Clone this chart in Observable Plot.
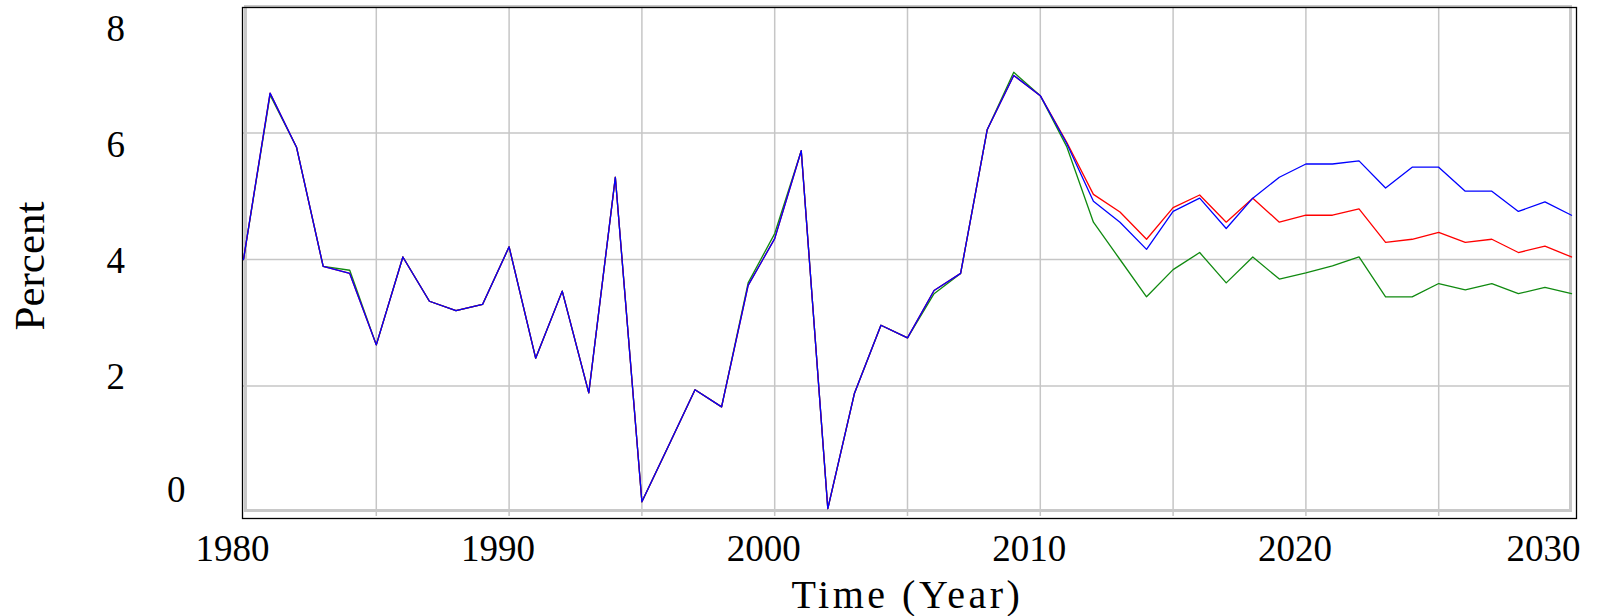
<!DOCTYPE html>
<html>
<head>
<meta charset="utf-8">
<script src="https://cdn.jsdelivr.net/npm/d3@7"></script>
<script src="https://cdn.jsdelivr.net/npm/@observablehq/plot@0.6"></script>
<style>
  html, body { margin: 0; padding: 0; background: #ffffff; color: #000000; }
  #chart svg { display: block; }
</style>
</head>
<body>
<div id="chart"></div>
<script>
// ---- data ----
const years = [1980,1981,1982,1983,1984,1985,1986,1987,1988,1989,
               1990,1991,1992,1993,1994,1995,1996,1997,1998,1999,
               2000,2001,2002,2003,2004,2005,2006,2007,2008,2009,
               2010,2011,2012,2013,2014,2015,2016,2017,2018,2019,
               2020,2021,2022,2023,2024,2025,2026,2027,2028,2029,2030];

const blueSeries = [4.00,6.63,5.77,3.89,3.78,2.65,4.04,3.34,3.19,3.29,
                    4.20,2.44,3.50,1.89,5.30,0.17,1.05,1.94,1.67,3.59,
                    4.33,5.72,0.06,1.88,2.96,2.76,3.51,3.78,6.05,6.91,
                    6.59,5.83,4.92,4.59,4.16,4.76,4.97,4.49,4.97,5.30,
                    5.51,5.51,5.56,5.13,5.46,5.46,5.08,5.08,4.76,4.91,4.70];

const redSeries  = [4.00,6.63,5.77,3.89,3.78,2.65,4.04,3.34,3.19,3.29,
                    4.20,2.44,3.50,1.89,5.30,0.17,1.05,1.94,1.67,3.59,
                    4.33,5.72,0.06,1.88,2.96,2.76,3.51,3.78,6.05,6.91,
                    6.59,5.85,5.03,4.75,4.32,4.82,5.02,4.59,4.97,4.59,
                    4.70,4.70,4.80,4.27,4.32,4.43,4.27,4.32,4.11,4.21,4.04];

const greenSeries = [4.00,6.60,5.77,3.89,3.83,2.65,4.04,3.34,3.19,3.29,
                     4.20,2.44,3.50,1.89,5.30,0.17,1.05,1.94,1.67,3.63,
                     4.41,5.72,0.06,1.88,2.96,2.76,3.46,3.78,6.05,6.96,
                     6.59,5.78,4.59,4.00,3.41,3.84,4.11,3.63,4.04,3.69,
                     3.79,3.90,4.04,3.41,3.41,3.62,3.52,3.62,3.46,3.56,3.46];

const xTickLabels = [1980, 1990, 2000, 2010, 2020, 2030];
const yTickLabels = [0, 2, 4, 6, 8];
const xGrid = [1985, 1990, 1995, 2000, 2005, 2010, 2015, 2020, 2025];
const yGrid = [2, 4, 6];
const xTitle = "Time (Year)";
const yTitle = "Percent";

// ---- build ----
const serif = "'Liberation Serif', 'Times New Roman', Times, serif";
const toRows = (vals) => years.map((yr, i) => ({year: yr, value: vals[i]}));
const intFmt = d => String(d);

// Vensim-style label placement (layout offsets only)
const yLabelDy = {8: 23, 6: 12, 4: 1.5, 2: -9, 0: -22};
const yLabelPad = (t) => (t === 0 ? 58 : 118.5);

const yAxes = yTickLabels.map(t => Plot.axisY([t], {
  tickSize: 0,
  tickPadding: yLabelPad(t),
  tickFormat: intFmt,
  dy: yLabelDy[t],
  fontSize: 37,
  fontFamily: serif,
  fill: "#000",
  label: null
}));

const chart = Plot.plot({
  width: 1610,
  height: 616,
  marginLeft: 243,
  marginRight: 39,
  marginTop: 6,
  marginBottom: 104,
  style: {background: "#ffffff", color: "#000000", fontFamily: serif, fontSize: "37px"},
  x: {domain: [1980, 2030], axis: null},
  y: {domain: [0, 8], axis: null},
  marks: [
    Plot.ruleX(xGrid, {stroke: "#c6c6c6", strokeWidth: 1.5, insetBottom: -4}),
    Plot.ruleY(yGrid, {stroke: "#c6c6c6", strokeWidth: 1.5}),
    Plot.frame({stroke: "#c8c8c8", strokeWidth: 3, insetLeft: 2, insetRight: 1, insetBottom: 2, insetTop: 0}),
    Plot.frame({stroke: "#000000", strokeWidth: 1.3, insetLeft: -1, insetRight: -5, insetTop: 1, insetBottom: -6}),
    Plot.line(toRows(greenSeries), {x: "year", y: "value", stroke: "#108a10", strokeWidth: 1.3}),
    Plot.line(toRows(redSeries), {x: "year", y: "value", stroke: "#ff0000", strokeWidth: 1.3}),
    Plot.line(toRows(blueSeries), {x: "year", y: "value", stroke: "#0000ff", strokeWidth: 1.3}),
    Plot.axisX(xTickLabels.filter(t => t !== 2030), {
      tickSize: 0, tickPadding: 22, tickFormat: intFmt, dx: -11, fontSize: 37, fontFamily: serif, fill: "#000", label: null
    }),
    Plot.axisX(xTickLabels.filter(t => t === 2030), {
      tickSize: 0, tickPadding: 22, tickFormat: intFmt, dx: -28, fontSize: 37, fontFamily: serif, fill: "#000", label: null
    }),
    ...yAxes,
    Plot.text([xTitle], {
      frameAnchor: "bottom", lineAnchor: "middle", textAnchor: "middle", dy: 83, dx: 0,
      fontSize: 40, fontFamily: serif, fill: "#000", text: d => d
    }),
    Plot.text([yTitle], {
      frameAnchor: "left", lineAnchor: "middle", textAnchor: "middle", rotate: -90, dx: -213, dy: 6.5,
      fontSize: 43, fontFamily: serif, fill: "#000", text: d => d
    })
  ]
});

// widen the x title like the reference's loose letter spacing
d3.select(chart).selectAll("text")
  .filter(function () { return this.textContent === xTitle; })
  .attr("letter-spacing", "3.5px");

document.getElementById("chart").appendChild(chart);
</script>
</body>
</html>
